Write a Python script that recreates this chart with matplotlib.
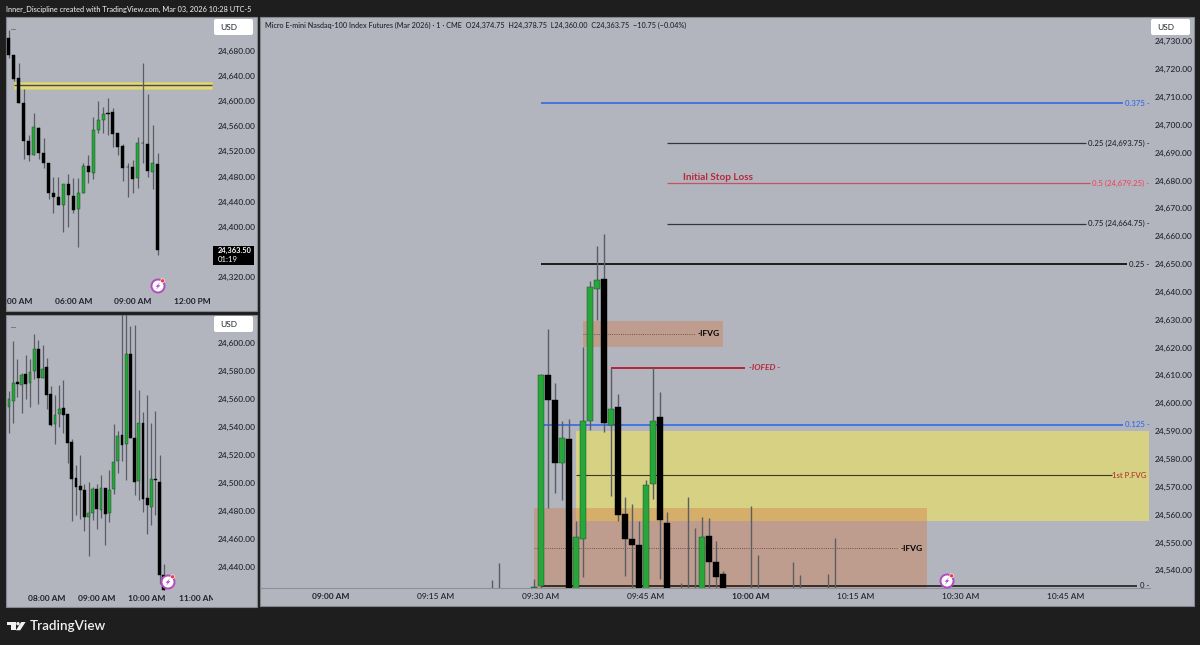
import matplotlib
matplotlib.use("Agg")
import matplotlib.pyplot as plt
from matplotlib.patches import Rectangle, Circle, Polygon, FancyBboxPatch
from matplotlib.transforms import Bbox

plt.rcParams["font.family"] = ["Lato", "DejaVu Sans"]

W, H = 1200, 645
BG = "#1e1e1e"
PANEL = "#b2b5be"
GREEN = "#27a63a"
EDGE_GREEN = "#1c3d22"
WICK = "#5a5d64"
TXT = "#1f222b"
BLUE = "#2e66e8"
TICK_SIZE = 6.0

# --- main chart: 1 minute candles, minutes after 09:00 ---
main_min = [23, 24, 29, 30, 31, 32, 33, 34, 35, 36, 37, 38, 39, 40, 41, 42, 43, 44, 45, 46, 47, 48,
            50, 51, 52, 53, 54, 55, 56, 60, 61, 66, 67, 71, 72]
main_o = [24528, 24528, 24533.5, 24534.5, 24610, 24601.2, 24578.5, 24587.2, 24528, 24551.3, 24593.6, 24641,
          24644.6, 24592.2, 24598.7, 24560.2, 24551.3, 24549.1, 24528, 24571, 24595, 24557,
          24528, 24528, 24528, 24528, 24552.3, 24543, 24538.7, 24528, 24528, 24528, 24528, 24528, 24528]
main_c = [24528, 24528, 24533.9, 24610, 24601.2, 24578.5, 24587.5, 24528, 24552, 24593.7, 24641.7, 24644.3,
          24592.9, 24597.9, 24559.9, 24551.3, 24549.1, 24528, 24570.6, 24593.6, 24558, 24528,
          24528, 24528, 24528, 24552, 24543, 24537.6, 24528, 24528, 24528, 24528, 24528, 24528, 24528]
main_h = [24536.5, 24542.6, 24536.9, 24610.5, 24626.7, 24607.3, 24593.6, 24594.3, 24557.7, 24620.2, 24643.9, 24656.5,
          24660.8, 24612.7, 24603.3, 24566.3, 24563.8, 24557.7, 24572.4, 24613, 24604, 24561,
          24535.5, 24566.3, 24555.2, 24559.2, 24558.8, 24550.5, 24539.8, 24563.1, 24545.5, 24543, 24538.3, 24538.7, 24551.6]
main_l = [24528, 24528, 24533, 24533, 24562.4, 24567.8, 24565.3, 24528, 24528, 24537.6, 24590.4, 24629.9,
          24589.7, 24566.7, 24557.7, 24538, 24533, 24528, 24528, 24565.6, 24536.9, 24528,
          24528, 24528, 24528, 24528, 24528, 24528, 24528, 24528, 24528, 24528, 24528, 24528, 24528]
main_yticks = list(range(24540, 24731, 10))
main_xticks = [0, 15, 30, 45, 60, 75, 90, 105]
main_xlabels = ["09:00 AM", "09:15 AM", "09:30 AM", "09:45 AM", "10:00 AM", "10:15 AM", "10:30 AM", "10:45 AM"]

# level lines: price, start minute, end minute
blue_levels = [(24707.8, 30, 113.1), (24592.2, 30.3, 113.1)]
fib_levels = [(24693.3, 48, 107.8), (24664.4, 48, 107.8)]
stop_level = (24679.0, 48, 108.4)
top_level = (24650.0, 30, 113.7)
zero_level = (24534.5, 30, 115.2)
iofed_level = (24612.7, 40, 59.1)

# zones: start minute, end minute, low, high
yellow_zone = (35, 116.9, 24557.7, 24590.0)
yellow_mid = (24574.2, 35, 111.6)
ifvg_top = (36, 56, 24620.3, 24629.5)
ifvg_top_mid = (24625.0, 36, 52.0)
ifvg_low = (29, 85.1, 24533, 24562.3)
ifvg_low_mid = (24548.0, 29, 81.0)

# --- top left chart: 15 minute candles, hours after 06:00 ---
a_o = [24700, 24673, 24636, 24596.3, 24536.5, 24514.3, 24557.7, 24517, 24501, 24454.4, 24448, 24434.3, 24467.7,
       24449.1, 24428.5, 24454.4, 24496.8, 24485.1, 24554, 24569.3, 24581, 24582, 24548.7, 24529.1, 24495.5,
       24494.7, 24478.3, 24533.6, 24531.2, 24487.3, 24500]
a_c = [24673, 24634.5, 24597.4, 24536.5, 24514.3, 24558.2, 24518, 24501, 24453.4, 24447, 24435.4, 24467.7, 24451.3,
       24426.9, 24454.4, 24496.8, 24486.7, 24553.5, 24569.9, 24578.9, 24580, 24547.1, 24527.5, 24493, 24494.7,
       24476.7, 24532.8, 24532.8, 24488.3, 24501, 24363.5]
a_h = [24713, 24673, 24660, 24618.6, 24546, 24580.5, 24559.3, 24541.8, 24502, 24479.8, 24479.8, 24468, 24483.6,
       24478.3, 24477.2, 24501, 24513.7, 24575.2, 24600.6, 24591, 24605.3, 24588.4, 24549, 24531.2, 24501,
       24506.3, 24542.3, 24660, 24611.2, 24561.9, 24518]
a_l = [24668, 24631.8, 24597, 24507.4, 24504.7, 24514, 24507.4, 24493, 24445, 24421.6, 24435, 24392.5, 24400.4,
       24421.6, 24368.7, 24454, 24470.3, 24476.7, 24548.7, 24548.7, 24546, 24527.5, 24513.7, 24473, 24447,
       24454.4, 24462.4, 24501, 24479.8, 24460.8, 24355.4]
a_yticks = [24320, 24400, 24440, 24480, 24520, 24560, 24600, 24640, 24680]
a_xticks = [-3, 0, 3, 6]
a_xlabels = ["03:00 AM", "06:00 AM", "09:00 AM", "12:00 PM"]
a_band = (-2.99, 6.99, 24619.1, 24630.8)
a_band_mid = 24625.5

# --- bottom left chart: 5 minute candles, hours after 08:00 ---
b_o = [24554.7, 24559, 24572.3, 24570.4, 24578.3, 24571.4, 24580.5, 24596, 24575.2, 24583.1, 24564, 24542.3, 24549.2,
       24554, 24549.2, 24529.4, 24503.9, 24497.7, 24494.9, 24476, 24478.4, 24495.6, 24480.8, 24496.5, 24478.9,
       24495.8, 24515.6, 24534.2, 24528, 24592.1, 24532.3, 24501.8, 24543, 24489.4, 24483.2, 24503.2, 24500.8, 24434.1]
b_c = [24560, 24571.9, 24570.9, 24577.6, 24570.7, 24579.5, 24596, 24575.2, 24581.4, 24562.8, 24541.4, 24548.5, 24553.3,
       24549, 24529, 24503.2, 24497.5, 24494.9, 24475.6, 24478.4, 24495.6, 24481.8, 24496.8, 24478.2, 24495.3,
       24515.1, 24533.5, 24527, 24592.6, 24532.3, 24500.8, 24543, 24488.9, 24484.1, 24502.7, 24502.3, 24434.1, 24423.4]
b_h = [24566.1, 24601.7, 24589, 24578.8, 24591.4, 24589, 24606.4, 24602.1, 24598.6, 24589.5, 24569.5, 24562.8, 24570,
       24574, 24549.2, 24531.8, 24512.7, 24520.4, 24499.4, 24500.8, 24497.3, 24499.6, 24506.1, 24496.5, 24509.6,
       24542.1, 24537.1, 24625, 24625, 24612.4, 24612.9, 24566.4, 24550.9, 24563.3, 24543, 24551.6, 24519.9, 24441.9]
b_l = [24535.9, 24543.3, 24561.6, 24550.4, 24560, 24554.5, 24574.7, 24556.4, 24575, 24553.3, 24541, 24527.8, 24540.2,
       24536.1, 24514.7, 24472.9, 24477, 24474.6, 24465.8, 24447.7, 24473.4, 24467.4, 24475.1, 24455.5, 24472.2,
       24492.5, 24507.3, 24515.6, 24502, 24532, 24491.3, 24487.7, 24479.4, 24463.4, 24469.8, 24477, 24428.1, 24423.4]
b_yticks = list(range(24440, 24601, 20))
b_xticks = [0, 1, 2, 3]
b_xlabels = ["08:00 AM", "09:00 AM", "10:00 AM", "11:00 AM"]


def box(l, t, r, b):
    return [l / W, 1 - b / H, (r - l) / W, (b - t) / H]


def price_ax(rect, xlim, ylim, yticks, xticks, xlabels, pad_x):
    ax = fig.add_axes(box(*rect), zorder=2)
    ax.set_facecolor("none")
    ax.set_xlim(*xlim)
    ax.set_ylim(*ylim)
    for s in ax.spines.values():
        s.set_visible(False)
    ax.yaxis.tick_right()
    ax.set_yticks(yticks)
    ax.set_yticklabels([f"{v:,.2f}" for v in yticks], fontweight="medium")
    ax.set_xticks(xticks)
    ax.set_xticklabels(xlabels, fontweight="medium")
    ax.tick_params(axis="y", length=0, pad=3.7, labelsize=TICK_SIZE, labelcolor=TXT)
    ax.tick_params(axis="x", length=0, pad=pad_x, labelsize=TICK_SIZE, labelcolor=TXT)
    return ax


def candles(ax, xs, o, h, l, c, width, lw):
    for x, op, hi, lo, cl in zip(xs, o, h, l, c):
        up = cl > op
        ax.vlines(x, lo, hi, color=WICK, lw=lw, zorder=3)
        ax.bar(x, abs(cl - op), width, bottom=min(op, cl), color=GREEN if up else "black",
               edgecolor=EDGE_GREEN if up else "black", linewidth=0.3, zorder=4)


def hline(ax, level, color, lw, ls="-"):
    ax.hlines(level[0], level[1], level[2], color=color, lw=lw, ls=ls, zorder=2)


def zone(ax, z, color, alpha, z_order=1):
    ax.add_patch(Rectangle((z[0], z[2]), z[1] - z[0], z[3] - z[2], facecolor=color, alpha=alpha,
                           edgecolor="none", zorder=z_order))


def flash(cx, cy):
    front.add_patch(Circle((cx, cy), 6.5, facecolor="white", edgecolor="#b04cc0", lw=1.4))
    front.add_patch(Polygon([(cx + 2.2, cy - 4), (cx - 2.4, cy + 0.8), (cx - 0.2, cy + 0.8),
                             (cx - 2.2, cy + 4), (cx + 2.4, cy - 0.8), (cx + 0.2, cy - 0.8)],
                            facecolor="#b04cc0", edgecolor="none"))
    front.add_patch(Circle((cx + 4.6, cy - 5.2), 2, facecolor="#f23645", edgecolor="white", lw=0.4))


def usd(x, y):
    front.add_patch(FancyBboxPatch((x + 1.5, y + 1.5), 36, 13, boxstyle="round,pad=1.5,rounding_size=2",
                                   facecolor="white", edgecolor="none"))
    front.text(x + 6, y + 8.2, "USD", fontsize=6, color=TXT, va="center", ha="left")


fig = plt.figure(figsize=(12, 6.45), dpi=100, facecolor=BG)

# background panels
back = fig.add_axes([0, 0, 1, 1], zorder=0)
back.set_xlim(0, W)
back.set_ylim(H, 0)
back.axis("off")
for l, t, r, b in [(6, 17.3, 257, 310.7), (6, 315, 257, 607), (260, 16.7, 1193.5, 605.7)]:
    back.add_patch(Rectangle((l, t), r - l, b - t, facecolor=PANEL, edgecolor="#85878e", lw=0.8))

# top left
ax_a = price_ax((6, 17.3, 213, 290), (-3.394, 7.045), (24299.8, 24733.06), a_yticks, a_xticks, a_xlabels, 5.5)
a_x = [-3.25 + 0.25 * i for i in range(len(a_o))]
ax_a.add_patch(Rectangle((a_band[0], a_band[2]), a_band[1] - a_band[0], a_band[3] - a_band[2],
                         facecolor="#dfd786", edgecolor="#d9cf5e", lw=0.6, zorder=1))
ax_a.hlines(a_band_mid, a_band[0], a_band[1], color="#4a4a3c", lw=1.0, zorder=2)
candles(ax_a, a_x, a_o, a_h, a_l, a_c, 0.155, 0.9)

# bottom left
ax_b = price_ax((6, 315, 213, 592), (-0.811, 3.313), (24422.1, 24620.24), b_yticks, b_xticks, b_xlabels, 2.5)
b_x = [-0.75 + i / 12 for i in range(len(b_o))]
candles(ax_b, b_x, b_o, b_h, b_l, b_c, 0.056, 0.9)

# tick labels cut at the pane edges
ax_a.get_xticklabels()[0].set_clip_box(Bbox([[6, 0], [213, H]]))
ax_a.get_xticklabels()[0].set_clip_on(True)
ax_b.get_xticklabels()[3].set_clip_box(Bbox([[6, 0], [213, H]]))
ax_b.get_xticklabels()[3].set_clip_on(True)
for ax in (ax_a, ax_b):
    for lab in ax.get_xticklabels():
        lab.set_fontweight("bold")

# main chart
ax = price_ax((260, 16.7, 1150, 588), (-10.14, 117), (24533.66, 24738.8), main_yticks, main_xticks, main_xlabels, 3.4)
ax.spines["bottom"].set_visible(True)
ax.spines["bottom"].set_color("#8d9097")
ax.spines["bottom"].set_linewidth(0.8)
for i in (0, 4):
    ax.get_xticklabels()[i].set_fontweight("bold")

zone(ax, yellow_zone, "#e8de6b", 0.7)
zone(ax, ifvg_top, "#d47b46", 0.4)
zone(ax, ifvg_low, "#d47b46", 0.4)
hline(ax, yellow_mid, "#3a3a24", 0.8)
hline(ax, ifvg_top_mid, "#4a3a34", 0.6, ":")
hline(ax, ifvg_low_mid, "#4a3a34", 0.6, ":")
for lev in blue_levels:
    hline(ax, lev, BLUE, 1.15)
for lev in fib_levels:
    hline(ax, lev, "#33363c", 0.9)
hline(ax, stop_level, "#c9505f", 0.9)
hline(ax, top_level, "#111111", 1.3)
hline(ax, zero_level, "#111111", 1.1)
hline(ax, iofed_level, "#b2182b", 1.3)
candles(ax, main_min, main_o, main_h, main_l, main_c, 0.74, 1.0)

# labels on the right of the levels
LAB_X = 116.9
lab_kw = dict(fontsize=5.6, fontweight="medium", ha="right", va="center", zorder=5)
ax.text(LAB_X, blue_levels[0][0], "0.375 -", color=BLUE, **lab_kw)
ax.text(LAB_X, blue_levels[1][0], "0.125 -", color=BLUE, **lab_kw)
ax.text(LAB_X, fib_levels[0][0], "0.25 (24,693.75) -", color=TXT, **lab_kw)
ax.text(LAB_X, stop_level[0], "0.5 (24,679.25) -", color="#f0455a", **lab_kw)
ax.text(LAB_X, fib_levels[1][0], "0.75 (24,664.75) -", color=TXT, **lab_kw)
ax.text(LAB_X, top_level[0], "0.25 -", color=TXT, **lab_kw)
ax.text(LAB_X, zero_level[0], "0 -", color=TXT, **lab_kw)
ax.text(LAB_X - 0.4, yellow_mid[0], "1st P.FVG", color="#b3342b", **lab_kw)
ax.text(50.3, stop_level[0] + 0.6, "Initial Stop Loss", color="#b52a3c", fontsize=7.2, fontweight="bold",
        ha="left", va="bottom", zorder=5)
ax.text(52.4, ifvg_top_mid[0], "-IFVG", color="black", fontsize=6.0, fontweight="bold", ha="left", va="center", zorder=5)
ax.text(81.3, ifvg_low_mid[0], "-IFVG", color="black", fontsize=6.0, fontweight="bold", ha="left", va="center", zorder=5)
ax.text(59.7, iofed_level[0], "-IOFED -", color="#b52a3c", fontsize=6.0, fontweight="bold", style="italic",
        ha="left", va="center", zorder=5)

# chrome on top
front = fig.add_axes([0, 0, 1, 1], zorder=5)
front.set_facecolor("none")
front.set_xlim(0, W)
front.set_ylim(H, 0)
front.axis("off")

front.text(6, 9, "Inner_Discipline created with TradingView.com, Mar 03, 2026 10:28 UTC-5", color="#e6e6e6",
           fontsize=5.35, fontweight="medium", va="center", ha="left")
front.text(265, 25.5, "Micro E-mini Nasdaq-100 Index Futures (Mar 2026) · 1 · CME  O24,374.75  H24,378.75  L24,360.00  "
           "C24,363.75  −10.75 (−0.04%)", color=TXT, fontsize=5.25, fontweight="medium", va="center", ha="left")
front.text(11, 28, "...", color=TXT, fontsize=6, va="center", ha="left")
front.text(11, 325, "...", color=TXT, fontsize=6, va="center", ha="left")
usd(214, 19)
usd(214, 316)
usd(1151, 19)

front.add_patch(Rectangle((213, 246), 41, 19, facecolor="black", edgecolor="none"))
front.text(218, 250.7, "24,363.50", color="white", fontsize=5.4, fontweight="bold", va="center", ha="left")
front.text(218, 259.5, "01:19", color="white", fontsize=5.6, va="center", ha="left")

flash(158, 286)
flash(168, 582)
flash(947, 581)

# logo
logo = "#f0f0f0"
front.add_patch(Polygon([(7.3, 622), (15.7, 622), (15.7, 630.3), (11, 630.3), (11, 625.2), (7.3, 625.2)],
                        facecolor=logo, edgecolor="none"))
front.add_patch(Circle((18, 623.7), 1.7, facecolor=logo, edgecolor="none"))
front.add_patch(Polygon([(21.2, 622), (25.6, 622), (20.2, 630.3), (15.9, 630.3)], facecolor=logo, edgecolor="none"))
front.text(30, 626.5, "TradingView", color=logo, fontsize=9.7, fontweight="semibold", va="center", ha="left")

fig.savefig("out.png", dpi=100, facecolor=BG)
